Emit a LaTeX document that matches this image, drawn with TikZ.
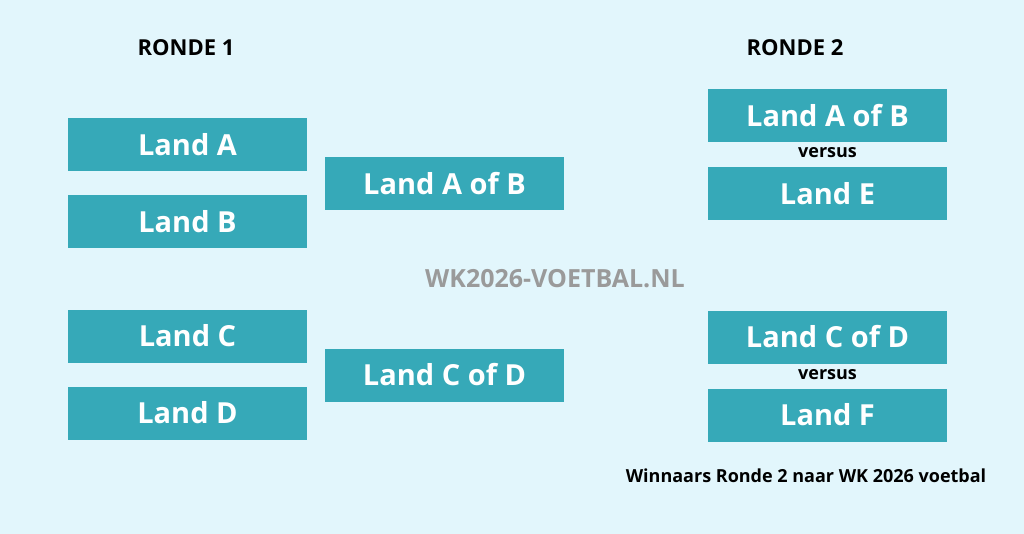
\documentclass[tikz,border=0pt]{standalone}
\usepackage{fontspec}
\setmainfont{Open Sans}
\definecolor{bg}{HTML}{E2F6FC}
\definecolor{boxc}{HTML}{36A9B8}
\definecolor{wm}{HTML}{9A9A9A}
\begin{document}
\begin{tikzpicture}[x=1pt,y=-1pt,
  teambox/.style={fill=boxc,minimum width=239pt,minimum height=53pt,inner sep=0pt,text=white,font=\fontsize{29}{34}\selectfont\bfseries},
  heading/.style={font=\fontsize{22}{26}\selectfont\bfseries,text=black},
  vs/.style={font=\fontsize{18}{21}\selectfont\bfseries,text=black}]
\fill[bg] (0,0) rectangle (1024,534);
\useasboundingbox (0,0) rectangle (1024,534);
\node[heading] (r1) at (186,48) {RONDE 1};
\node[heading] (r2) at (795,48) {RONDE 2};
\node[teambox] (a) at (187.5,145) {Land A};
\node[teambox] (b) at (187.5,221.5) {Land B};
\node[teambox] (c) at (187.5,336) {Land C};
\node[teambox] (d) at (187.5,413) {Land D};
\node[teambox] (ab) at (444.5,183.5) {Land A of B};
\node[teambox] (cd) at (444.5,375) {Land C of D};
\node[teambox] (rab) at (827.5,116) {Land A of B};
\node[vs] (v1) at (827.5,153) {versus};
\node[teambox] (e) at (827.5,193.5) {Land E};
\node[teambox] (rcd) at (827.5,337) {Land C of D};
\node[vs] (v2) at (827.5,375) {versus};
\node[teambox] (f) at (827.5,415) {Land F};
\node[font=\fontsize{25}{29}\selectfont\bfseries,text=wm] (wk) at (555,279) {WK2026-VOETBAL.NL};
\node[font=\fontsize{18}{22}\selectfont\bfseries,text=black] (win) at (806,476) {Winnaars Ronde 2 naar WK 2026 voetbal};
\end{tikzpicture}
\end{document}
